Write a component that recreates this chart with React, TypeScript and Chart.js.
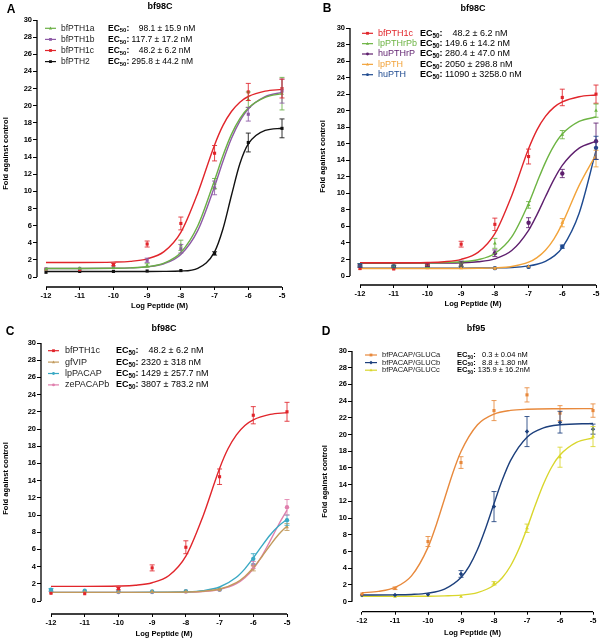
import React, { useEffect, useRef } from "react";
import { Chart, registerables } from "chart.js";

Chart.register(...registerables);

const FONT = '"Liberation Sans", Arial, Helvetica, sans-serif';

// ---------------- shared axes ----------------
const DOSES = [-12, -11, -10, -9, -8, -7, -6, -5];
const X_TICKS = [-12, -11, -10, -9, -8, -7, -6, -5];
const X_TICK_LABELS = ["-12", "-11", "-10", "-9", "-8", "-7", "-6", "-5"];
const Y_TICKS = [0, 2, 4, 6, 8, 10, 12, 14, 16, 18, 20, 22, 24, 26, 28, 30];
const Y_TICK_LABELS = ["0", "2", "4", "6", "8", "10", "12", "14", "16", "18", "20", "22", "24", "26", "28", "30"];
const X_TITLE = "Log Peptide (M)";
const Y_TITLE = "Fold against control";

// fitted-curve sample positions
const FIT_X = [-12, -11, -10, -9.5, -9, -8.5, -8, -7.5, -7, -6.75, -6.5, -6.25, -6, -5.5, -5];
const FIT_X_C = [-12, -11, -10, -9, -8, -7.5, -7, -6.5, -6.25, -6, -5.75, -5.5, -5.25, -5];
const FIT_X_DA = [-12, -11.5, -11, -10.5, -10, -9.75, -9.5, -9.25, -9, -8.5, -8, -7.5, -7, -6, -5];
const FIT_X_DB = [-12, -11, -10.5, -10, -9.5, -9, -8.75, -8.5, -8.25, -8, -7.75, -7.5, -7, -6.5, -6, -5];
const FIT_X_DC = [-12, -10, -9.5, -9, -8.5, -8, -7.75, -7.5, -7.25, -7, -6.75, -6.5, -6.25, -6, -5.5, -5];

// ---------------- bfPTH1c (panels A, B, C) ----------------
const PTH1C_MEAN = [0.9, 0.85, 1.45, 3.85, 6.25, 14.45, 21.6, 22.0];
const PTH1C_SEM = [0.1, 0.1, 0.15, 0.35, 0.75, 0.9, 1.0, 1.1];
const PTH1C_FIT = [1.7, 1.7, 1.74, 1.83, 2.12, 2.96, 5.21, 9.78, 15.42, 17.7, 19.32, 20.41, 21.07, 21.7, 21.9];
const PTH1C_FIT_B = [1.6, 1.6, 1.64, 1.73, 2.02, 2.86, 5.13, 9.72, 15.39, 17.68, 19.31, 20.4, 21.06, 21.69, 21.9];

// ---------------- Panel A ----------------
const A_PTH1A_MEAN = [0.9, 1.0, 1.1, 1.35, 3.7, 10.9, 20.7, 21.4];
const A_PTH1A_SEM = [0.1, 0.1, 0.1, 0.2, 0.6, 0.6, 0.9, 1.9];
const A_PTH1A_FIT = [1.0, 1.0, 1.02, 1.06, 1.2, 1.63, 2.87, 5.95, 11.3, 14.18, 16.65, 18.49, 19.73, 20.97, 21.4];
const A_PTH1B_MEAN = [0.95, 1.0, 1.1, 1.95, 3.3, 10.4, 19.0, 21.7];
const A_PTH1B_SEM = [0.1, 0.1, 0.1, 0.25, 0.5, 0.8, 0.8, 1.4];
const A_PTH1B_FIT = [1.0, 1.0, 1.02, 1.06, 1.18, 1.55, 2.63, 5.41, 10.57, 13.52, 16.16, 18.2, 19.62, 21.05, 21.56];
const A_PTH2_MEAN = [0.55, 0.65, 0.65, 0.7, 0.75, 2.75, 15.7, 17.35];
const A_PTH2_SEM = [0.05, 0.05, 0.05, 0.05, 0.1, 0.2, 1.1, 1.1];
const A_PTH2_FIT = [0.65, 0.65, 0.65, 0.65, 0.65, 0.66, 0.7, 1.02, 2.94, 5.63, 9.51, 13.21, 15.53, 17.11, 17.36];

// ---------------- Panel B ----------------
const B_LPPTHRPB_MEAN = [1.3, 1.15, 1.2, 1.35, 3.95, 8.6, 17.1, 20.0];
const B_LPPTHRPB_SEM = [0.2, 0.15, 0.15, 0.2, 0.6, 0.4, 0.5, 0.8];
const B_LPPTHRPB_FIT = [1.6, 1.6, 1.61, 1.64, 1.72, 1.97, 2.72, 4.72, 8.77, 11.32, 13.75, 15.74, 17.17, 18.69, 19.23];
const B_HUPTHRP_MEAN = [1.2, 1.15, 1.3, 1.5, 2.75, 6.45, 12.4, 16.3];
const B_HUPTHRP_SEM = [0.15, 0.1, 0.15, 0.3, 0.4, 0.6, 0.5, 2.2];
const B_HUPTHRP_FIT = [1.55, 1.55, 1.56, 1.57, 1.6, 1.72, 2.07, 3.08, 5.53, 7.43, 9.58, 11.66, 13.38, 15.47, 16.29];
const B_LPPTH_MEAN = [0.85, 0.85, 0.95, 0.95, 0.9, 1.15, 6.45, 14.2];
const B_LPPTH_SEM = [0.1, 0.1, 0.1, 0.1, 0.1, 0.1, 0.5, 1.0];
const B_LPPTH_FIT = [0.9, 0.9, 0.9, 0.9, 0.91, 0.93, 0.98, 1.15, 1.67, 2.23, 3.12, 4.47, 6.34, 10.96, 14.68];
const B_HUPTH_MEAN = [1.3, 1.15, 1.1, 1.1, 0.95, 1.1, 3.55, 15.5];
const B_HUPTH_SEM = [0.2, 0.15, 0.1, 0.1, 0.1, 0.1, 0.2, 1.4];
const B_HUPTH_FIT = [0.95, 0.95, 0.95, 0.95, 0.95, 0.96, 0.98, 1.03, 1.22, 1.42, 1.78, 2.4, 3.43, 7.6, 15.17];

// ---------------- Panel C ----------------
const C_GFVIP_MEAN = [1.0, 1.05, 1.05, 1.1, 1.1, 1.3, 3.8, 8.6];
const C_GFVIP_SEM = [0.1, 0.1, 0.1, 0.1, 0.1, 0.1, 0.3, 0.4];
const C_GFVIP_FIT = [1.0, 1.0, 1.0, 1.0, 1.04, 1.13, 1.39, 2.14, 2.86, 3.86, 5.12, 6.48, 7.73, 8.71];
const C_LPPACAP_MEAN = [1.3, 1.2, 1.1, 1.1, 1.15, 1.35, 4.9, 9.4];
const C_LPPACAP_SEM = [0.15, 0.1, 0.1, 0.1, 0.1, 0.1, 0.6, 0.6];
const C_LPPACAP_FIT = [1.0, 1.0, 1.0, 1.01, 1.07, 1.21, 1.63, 2.76, 3.74, 5.0, 6.38, 7.68, 8.73, 9.49];
const C_ZEPACAPB_MEAN = [1.1, 1.1, 1.05, 1.05, 1.1, 1.3, 4.2, 10.9];
const C_ZEPACAPB_SEM = [0.1, 0.1, 0.1, 0.1, 0.1, 0.1, 0.4, 0.9];
const C_ZEPACAPB_FIT = [1.0, 1.0, 1.0, 1.0, 1.03, 1.11, 1.34, 2.01, 2.7, 3.75, 5.2, 6.99, 8.87, 10.56];

// ---------------- Panel D ----------------
const D_GLUCA_MEAN = [0.92, 1.6, 7.2, 16.65, 22.87, 24.75, 22.56, 22.87];
const D_GLUCA_SEM = [0.1, 0.15, 0.6, 0.7, 1.2, 0.85, 0.9, 0.8];
const D_GLUCA_FIT = [1.07, 1.23, 1.71, 3.09, 6.5, 9.19, 12.3, 15.38, 17.97, 21.17, 22.45, 22.89, 23.03, 23.09, 23.1];
const D_GLUCB_MEAN = [0.8, 0.8, 0.85, 3.32, 11.38, 20.36, 21.48, 20.65];
const D_GLUCB_SEM = [0.05, 0.05, 0.1, 0.4, 1.8, 1.8, 1.3, 0.6];
const D_GLUCB_FIT = [0.8, 0.82, 0.87, 1.03, 1.51, 2.9, 4.26, 6.24, 8.82, 11.74, 14.55, 16.88, 19.69, 20.8, 21.17, 21.33];
const D_GLUCC_MEAN = [0.68, 0.6, 0.68, 0.6, 2.2, 8.79, 17.29, 19.76];
const D_GLUCC_SEM = [0.05, 0.05, 0.05, 0.05, 0.2, 0.5, 1.2, 1.2];
const D_GLUCC_FIT = [0.65, 0.66, 0.7, 0.79, 1.09, 1.97, 2.87, 4.27, 6.27, 8.79, 11.53, 14.08, 16.12, 17.55, 19.06, 19.59];

// ---------------- types ----------------
interface Series {
  name: string;
  ec50: string;
  color: string;
  nameColor: string;
  marker: string;
  mean: number[];
  sem: number[];
  fitX: number[];
  fitY: number[];
}

interface PanelDef {
  letter: string;
  title: string;
  box: { x: number; y: number; w: number; h: number };
  plot: { left: number; x12: number; right: number; top: number; y0: number; bottom: number; padLeft: number };
  yTitlePad: number;
  xTitlePad: number;
  header: { lx: number; ly: number; tx: number; ty: number };
  legend: { lx0: number; lx1: number; tx: number; ecx: number; y0: number; dy: number; size: number };
  series: Series[];
}

const RED = "#e1252b";

const PANELS: PanelDef[] = [
  {
    letter: "A",
    title: "bf98C",
    box: { x: 0, y: 0, w: 300, h: 320 },
    plot: { left: 37, x12: 46, right: 282, top: 20, y0: 277, bottom: 287, padLeft: 0 },
    yTitlePad: 1,
    xTitlePad: 9.4,
    header: { lx: 11, ly: 9.5, tx: 160, ty: 6.5 },
    legend: { lx0: 45, lx1: 56, tx: 61, ecx: 108, y0: 28.3, dy: 11.1, size: 8.5 },
    series: [
      { name: "bfPTH1a", ec50: "    98.1 ± 15.9 nM", color: "#6aaf45", nameColor: "#222", marker: "triangle", mean: A_PTH1A_MEAN, sem: A_PTH1A_SEM, fitX: FIT_X, fitY: A_PTH1A_FIT },
      { name: "bfPTH1b", ec50: " 117.7 ± 17.2 nM", color: "#8d5aa6", nameColor: "#222", marker: "rect", mean: A_PTH1B_MEAN, sem: A_PTH1B_SEM, fitX: FIT_X, fitY: A_PTH1B_FIT },
      { name: "bfPTH1c", ec50: "    48.2 ± 6.2 nM", color: RED, nameColor: "#222", marker: "rect", mean: PTH1C_MEAN, sem: PTH1C_SEM, fitX: FIT_X, fitY: PTH1C_FIT },
      { name: "bfPTH2", ec50: " 295.8 ± 44.2 nM", color: "#111111", nameColor: "#222", marker: "rect", mean: A_PTH2_MEAN, sem: A_PTH2_SEM, fitX: FIT_X, fitY: A_PTH2_FIT },
    ],
  },
  {
    letter: "B",
    title: "bf98C",
    box: { x: 300, y: 0, w: 301, h: 320 },
    plot: { left: 50, x12: 60, right: 296, top: 28, y0: 276, bottom: 285, padLeft: 18 },
    yTitlePad: 0.5,
    xTitlePad: 11.4,
    header: { lx: 27, ly: 8.5, tx: 173, ty: 8.5 },
    legend: { lx0: 62, lx1: 73, tx: 78, ecx: 120, y0: 33.3, dy: 10.35, size: 9 },
    series: [
      { name: "bfPTH1c", ec50: "    48.2 ± 6.2 nM", color: RED, nameColor: RED, marker: "rect", mean: PTH1C_MEAN, sem: PTH1C_SEM, fitX: FIT_X, fitY: PTH1C_FIT_B },
      { name: "lpPTHrPb", ec50: " 149.6 ± 14.2 nM", color: "#6db443", nameColor: "#6db443", marker: "triangle", mean: B_LPPTHRPB_MEAN, sem: B_LPPTHRPB_SEM, fitX: FIT_X, fitY: B_LPPTHRPB_FIT },
      { name: "huPTHrP", ec50: " 280.4 ± 47.0 nM", color: "#5e1f6e", nameColor: "#5e1f6e", marker: "circle", mean: B_HUPTHRP_MEAN, sem: B_HUPTHRP_SEM, fitX: FIT_X, fitY: B_HUPTHRP_FIT },
      { name: "lpPTH", ec50: " 2050 ± 298.8 nM", color: "#f2a33a", nameColor: "#f2a33a", marker: "triangle", mean: B_LPPTH_MEAN, sem: B_LPPTH_SEM, fitX: FIT_X, fitY: B_LPPTH_FIT },
      { name: "huPTH", ec50: " 11090 ± 3258.0 nM", color: "#1e4a90", nameColor: "#1e4a90", marker: "circle", mean: B_HUPTH_MEAN, sem: B_HUPTH_SEM, fitX: FIT_X, fitY: B_HUPTH_FIT },
    ],
  },
  {
    letter: "C",
    title: "bf98C",
    box: { x: 0, y: 320, w: 300, h: 320 },
    plot: { left: 41, x12: 51, right: 287, top: 23, y0: 281, bottom: 294, padLeft: 0 },
    yTitlePad: 1,
    xTitlePad: 1.4,
    header: { lx: 10, ly: 12, tx: 164, ty: 8.5 },
    legend: { lx0: 48, lx1: 59, tx: 65, ecx: 116, y0: 30.7, dy: 11.4, size: 9 },
    series: [
      { name: "bfPTH1c", ec50: "    48.2 ± 6.2 nM", color: RED, nameColor: "#222", marker: "rect", mean: PTH1C_MEAN, sem: PTH1C_SEM, fitX: FIT_X, fitY: PTH1C_FIT },
      { name: "gfVIP", ec50: " 2320 ± 318 nM", color: "#c29a5c", nameColor: "#222", marker: "triangle", mean: C_GFVIP_MEAN, sem: C_GFVIP_SEM, fitX: FIT_X_C, fitY: C_GFVIP_FIT },
      { name: "lpPACAP", ec50: " 1429 ± 257.7 nM", color: "#3aa9c4", nameColor: "#222", marker: "circle", mean: C_LPPACAP_MEAN, sem: C_LPPACAP_SEM, fitX: FIT_X_C, fitY: C_LPPACAP_FIT },
      { name: "zePACAPb", ec50: " 3807 ± 783.2 nM", color: "#e07fad", nameColor: "#222", marker: "circle", mean: C_ZEPACAPB_MEAN, sem: C_ZEPACAPB_SEM, fitX: FIT_X_C, fitY: C_ZEPACAPB_FIT },
    ],
  },
  {
    letter: "D",
    title: "bf95",
    box: { x: 300, y: 320, w: 301, h: 320 },
    plot: { left: 52, x12: 62, right: 293, top: 31, y0: 281.7, bottom: 291.7, padLeft: 18 },
    yTitlePad: 1.9,
    xTitlePad: 2.1,
    header: { lx: 26, ly: 12, tx: 176, ty: 8.5 },
    legend: { lx0: 65, lx1: 77, tx: 82, ecx: 157, y0: 35, dy: 7.6, size: 7.5 },
    series: [
      { name: "bfPACAP/GLUCa", ec50: "   0.3 ± 0.04 nM", color: "#e8893c", nameColor: "#222", marker: "rect", mean: D_GLUCA_MEAN, sem: D_GLUCA_SEM, fitX: FIT_X_DA, fitY: D_GLUCA_FIT },
      { name: "bfPACAP/GLUCb", ec50: "   8.8 ± 1.80 nM", color: "#1c3f7c", nameColor: "#222", marker: "rectRot", mean: D_GLUCB_MEAN, sem: D_GLUCB_SEM, fitX: FIT_X_DB, fitY: D_GLUCB_FIT },
      { name: "bfPACAP/GLUCc", ec50: " 135.9 ± 16.2nM", color: "#d9d62c", nameColor: "#222", marker: "triangle", mean: D_GLUCC_MEAN, sem: D_GLUCC_SEM, fitX: FIT_X_DC, fitY: D_GLUCC_FIT },
    ],
  },
];

function drawMarker(ctx: CanvasRenderingContext2D, style: string, x: number, y: number, r: number, color: string) {
  ctx.save();
  ctx.fillStyle = color;
  ctx.beginPath();
  if (style === "rect") {
    ctx.rect(x - r, y - r, 2 * r, 2 * r);
  } else if (style === "triangle") {
    ctx.moveTo(x, y - r * 1.2);
    ctx.lineTo(x + r * 1.1, y + r * 0.8);
    ctx.lineTo(x - r * 1.1, y + r * 0.8);
    ctx.closePath();
  } else if (style === "rectRot") {
    ctx.moveTo(x, y - r * 1.3);
    ctx.lineTo(x + r * 1.3, y);
    ctx.lineTo(x, y + r * 1.3);
    ctx.lineTo(x - r * 1.3, y);
    ctx.closePath();
  } else {
    ctx.arc(x, y, r, 0, Math.PI * 2);
  }
  ctx.fill();
  ctx.restore();
}

function makeDecor(p: PanelDef) {
  return {
    id: "decor" + p.letter,
    afterDatasetsDraw(chart: any) {
      const { ctx, scales } = chart;
      const xs = scales.x;
      const ys = scales.y;
      chart.data.datasets.forEach((ds: any) => {
        if (!ds.errors) return;
        ctx.save();
        ctx.strokeStyle = ds.errColor;
        ctx.globalAlpha = 0.85;
        ctx.lineWidth = 1;
        ds.data.forEach((pt: any, i: number) => {
          const e = ds.errors[i];
          const px = xs.getPixelForValue(pt.x);
          const yt = ys.getPixelForValue(pt.y + e);
          const yb = ys.getPixelForValue(pt.y - e);
          if (yb - yt < 2) return;
          ctx.beginPath();
          ctx.moveTo(px, yt);
          ctx.lineTo(px, yb);
          ctx.moveTo(px - 2.5, yt);
          ctx.lineTo(px + 2.5, yt);
          ctx.moveTo(px - 2.5, yb);
          ctx.lineTo(px + 2.5, yb);
          ctx.stroke();
        });
        ctx.restore();
      });
    },
    afterDraw(chart: any) {
      const { ctx, chartArea, scales } = chart;
      const xs = scales.x;
      const ys = scales.y;
      ctx.save();
      // axes lines (offset GraphPad style)
      ctx.strokeStyle = "#000";
      ctx.lineWidth = 1.3;
      ctx.beginPath();
      ctx.moveTo(chartArea.left, ys.getPixelForValue(Y_TICKS[0]));
      ctx.lineTo(chartArea.left, ys.getPixelForValue(Y_TICKS[Y_TICKS.length - 1]));
      ctx.moveTo(xs.getPixelForValue(X_TICKS[0]), chartArea.bottom);
      ctx.lineTo(xs.getPixelForValue(X_TICKS[X_TICKS.length - 1]), chartArea.bottom);
      ctx.stroke();

      // header
      ctx.fillStyle = "#000";
      ctx.textBaseline = "middle";
      ctx.textAlign = "center";
      ctx.font = `bold 12px ${FONT}`;
      ctx.fillText(p.letter, p.header.lx, p.header.ly);
      ctx.font = `bold 9px ${FONT}`;
      ctx.fillText(p.title, p.header.tx, p.header.ty);

      // legend
      const L = p.legend;
      ctx.textAlign = "left";
      p.series.forEach((s, i) => {
        const y = L.y0 + i * L.dy;
        ctx.strokeStyle = s.color;
        ctx.lineWidth = 1.2;
        ctx.beginPath();
        ctx.moveTo(L.lx0, y);
        ctx.lineTo(L.lx1, y);
        ctx.stroke();
        drawMarker(ctx, s.marker, (L.lx0 + L.lx1) / 2, y, 1.4, s.color);
        ctx.fillStyle = s.nameColor;
        ctx.font = `${L.size}px ${FONT}`;
        ctx.fillText(s.name, L.tx, y);
        ctx.fillStyle = "#000";
        ctx.font = `bold ${L.size}px ${FONT}`;
        ctx.fillText("EC", L.ecx, y);
        let w = ctx.measureText("EC").width;
        ctx.font = `bold ${L.size * 0.7}px ${FONT}`;
        ctx.fillText("50", L.ecx + w, y + L.size * 0.3);
        w += ctx.measureText("50").width;
        ctx.font = `bold ${L.size}px ${FONT}`;
        ctx.fillText(":", L.ecx + w, y);
        w += ctx.measureText(":").width;
        ctx.font = `${L.size}px ${FONT}`;
        ctx.fillText(s.ec50, L.ecx + w, y);
      });
      ctx.restore();
    },
  };
}

function buildConfig(p: PanelDef): any {
  const P = p.plot;
  const xLast = X_TICKS[X_TICKS.length - 1];
  const xFirst = X_TICKS[0];
  const xmin = xLast - ((P.right - P.left) * (xLast - xFirst)) / (P.right - P.x12);
  const yTop = Y_TICKS[Y_TICKS.length - 1];
  const yBottom = Y_TICKS[0];
  const ymin = yTop - ((P.bottom - P.top) * (yTop - yBottom)) / (P.y0 - P.top);

  const datasets: any[] = [];
  p.series.forEach((s) => {
    datasets.push({
      type: "line",
      label: s.name + " fit",
      data: s.fitX.map((x, i) => ({ x, y: s.fitY[i] })),
      borderColor: s.color,
      borderWidth: 1.4,
      pointRadius: 0,
      fill: false,
      cubicInterpolationMode: "monotone",
      clip: false,
    });
    datasets.push({
      type: "scatter",
      label: s.name,
      data: DOSES.map((x, i) => ({ x, y: s.mean[i] })),
      backgroundColor: s.color,
      borderColor: s.color,
      borderWidth: 0,
      pointStyle: s.marker,
      pointRadius: 2.2,
      showLine: false,
      clip: false,
      errors: s.sem,
      errColor: s.color,
    });
  });

  const tickFont = { family: FONT, size: 7.5, weight: "bold" as const };
  const titleFont = { family: FONT, size: 7.6, weight: "bold" as const };

  return {
    type: "scatter",
    data: { datasets },
    options: {
      responsive: false,
      animation: false,
      devicePixelRatio: 1,
      layout: { padding: { top: P.top, right: p.box.w - P.right, left: P.padLeft, bottom: 0 } },
      plugins: { legend: { display: false }, tooltip: { enabled: false }, title: { display: false } },
      scales: {
        x: {
          type: "linear",
          min: xmin,
          max: xLast,
          afterBuildTicks: (s: any) => {
            s.ticks = X_TICKS.map((v) => ({ value: v }));
          },
          afterFit: (s: any) => {
            s.height = p.box.h - P.bottom;
          },
          border: { display: false },
          grid: { display: true, drawOnChartArea: false, drawTicks: true, tickLength: 3, color: "#000", lineWidth: 1 },
          ticks: {
            font: tickFont,
            color: "#000",
            padding: 1.5,
            maxRotation: 0,
            autoSkip: false,
            callback: (_v: any, i: number) => X_TICK_LABELS[i],
          },
          title: { display: true, text: X_TITLE, font: titleFont, color: "#000", padding: { top: 0, bottom: p.xTitlePad } },
        },
        y: {
          type: "linear",
          min: ymin,
          max: yTop,
          afterBuildTicks: (s: any) => {
            s.ticks = Y_TICKS.map((v) => ({ value: v }));
          },
          afterFit: (s: any) => {
            s.width = P.left - P.padLeft;
          },
          border: { display: false },
          grid: { display: true, drawOnChartArea: false, drawTicks: true, tickLength: 4, color: "#000", lineWidth: 1 },
          ticks: {
            font: tickFont,
            color: "#000",
            padding: 1,
            autoSkip: false,
            callback: (_v: any, i: number) => Y_TICK_LABELS[i],
          },
          title: { display: true, text: Y_TITLE, font: titleFont, color: "#000", padding: { top: p.yTitlePad, bottom: 0 } },
        },
      },
    },
    plugins: [makeDecor(p)],
  };
}

function Panel({ def }: { def: PanelDef }) {
  const ref = useRef<HTMLCanvasElement>(null);
  useEffect(() => {
    if (!ref.current) return;
    const chart = new Chart(ref.current, buildConfig(def));
    return () => chart.destroy();
  }, [def]);
  return (
    <canvas
      ref={ref}
      width={def.box.w}
      height={def.box.h}
      style={{ position: "absolute", left: def.box.x, top: def.box.y, width: def.box.w, height: def.box.h }}
    />
  );
}

export default function App() {
  return (
    <div style={{ position: "absolute", left: 0, top: 0, width: 601, height: 640, background: "#fff", overflow: "hidden" }}>
      {PANELS.map((p) => (
        <Panel key={p.letter} def={p} />
      ))}
    </div>
  );
}
